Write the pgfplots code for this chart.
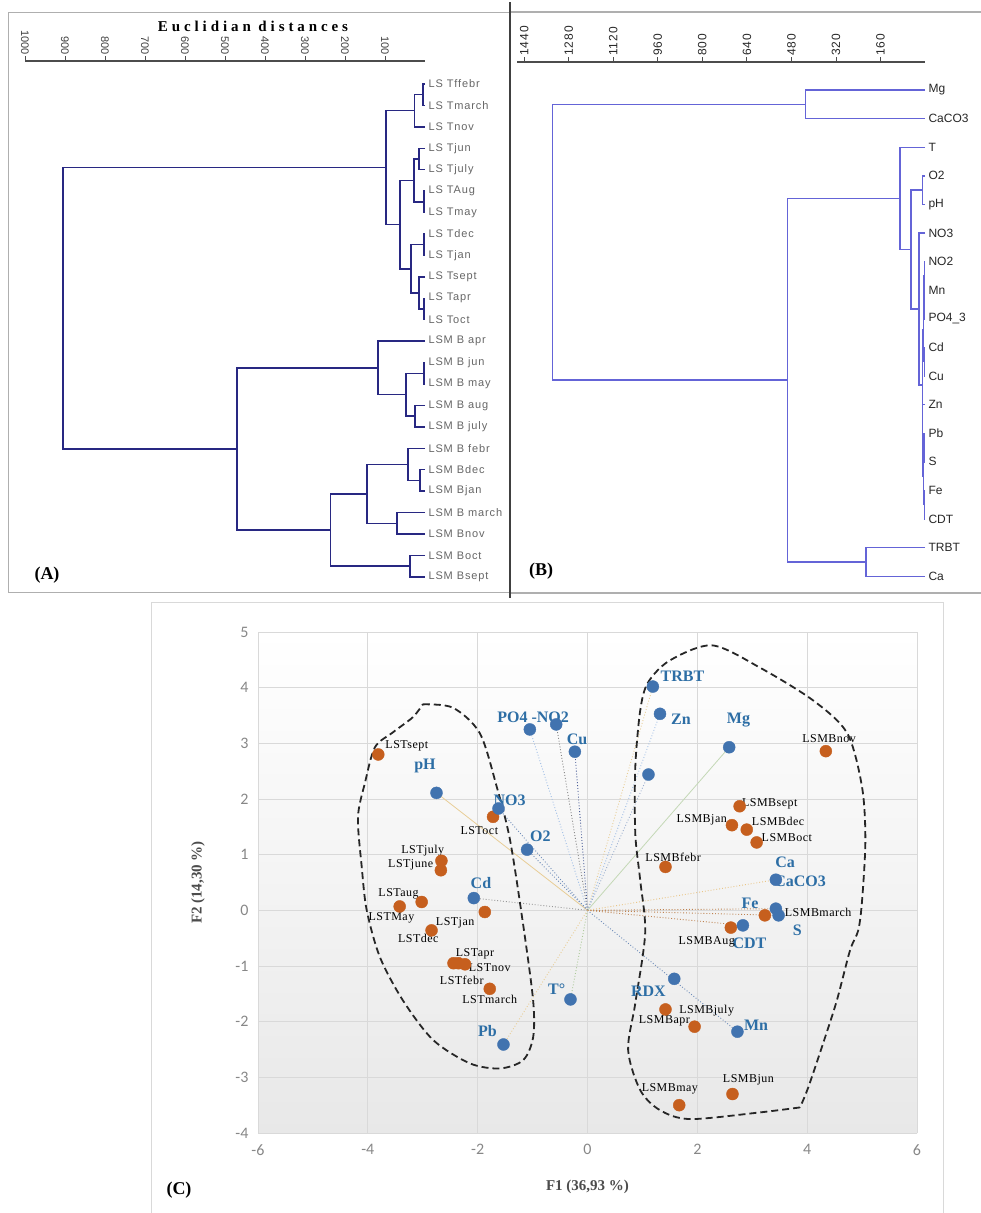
\documentclass[border=0pt]{standalone}
\usepackage{fontspec}
\setmainfont{Liberation Serif}
\setsansfont{Liberation Sans}
\newfontfamily\titlefont[LetterSpace=26]{Liberation Serif}
\newfontfamily\dendfont[LetterSpace=8]{Liberation Sans}
\newfontfamily\obsfont[LetterSpace=4]{Liberation Serif}
\newfontfamily\carlito{Carlito}
\usepackage{pgfplots}
\pgfplotsset{compat=1.18}
\definecolor{dendA}{RGB}{40,40,130}
\definecolor{dendB}{RGB}{100,100,215}
\definecolor{ptblue}{RGB}{65,115,175}
\definecolor{ptorange}{RGB}{198,95,30}
\definecolor{lblblue}{RGB}{45,110,165}
\definecolor{tickgray}{RGB}{135,135,135}
\definecolor{gridgray}{RGB}{217,217,217}
\definecolor{framegray}{RGB}{175,175,175}
\definecolor{vtan}{RGB}{232,205,150}
\definecolor{vlblue}{RGB}{160,190,230}
\definecolor{vgreen}{RGB}{170,200,150}
\definecolor{vnavy}{RGB}{70,90,150}
\definecolor{vgray}{RGB}{150,150,150}
\definecolor{vbrown}{RGB}{190,130,80}
\definecolor{vblue}{RGB}{110,140,185}
\tikzset{
 bl/.style={font=\bfseries\fontsize{16}{16}\selectfont, text=lblblue, inner sep=0pt},
 ol/.style={font=\obsfont\fontsize{12}{12}\selectfont, text=black, inner sep=0pt},
 vec/.style={line width=0.9pt, dotted},
 dA/.style={draw=dendA, solid, mark=none, line width=1.4pt},
 dB/.style={draw=dendB, solid, mark=none, line width=1.4pt},
}
\begin{document}
\begin{tikzpicture}
\path[use as bounding box] (0pt,0pt) rectangle (981pt,-1213pt);
% frames
\draw[framegray, line width=1pt] (8pt,-12pt) rectangle (510pt,-592pt);
\draw[framegray, line width=1.2pt] (510pt,-12pt) -- (981pt,-12pt);
\draw[framegray, line width=1.5pt] (510pt,-593pt) -- (981pt,-593pt);
\draw[black!75, line width=1.2pt] (510pt,-2pt) -- (510pt,-598pt);
\draw[gridgray, line width=1pt] (151pt,-602pt) rectangle (943pt,-1213pt);
\node[font=\titlefont\bfseries\fontsize{15}{17}\selectfont] at (253pt,-26pt) {Euclidian distances};
\node[font=\bfseries\fontsize{18}{20}\selectfont] at (47pt,-575pt) {(A)};
\node[font=\bfseries\fontsize{18}{20}\selectfont] at (541pt,-571pt) {(B)};
\node[font=\bfseries\fontsize{18}{20}\selectfont] at (179pt,-1190pt) {(C)};

% ---------------- Panel A ----------------
\begin{axis}[
  at={(25pt,-61pt)}, anchor=north west, scale only axis,
  width=400pt, height=527pt,
  xmin=-1000, xmax=0, ymin=-24.52, ymax=0.073,
  axis x line*=top, axis y line*=right,
  x axis line style={-, line width=1.2pt, black!70},
  y axis line style={draw=none},
  xtick={-1000,-900,...,-100},
  xticklabels={1000,900,800,700,600,500,400,300,200,100},
  xtick align=outside, major tick length=5pt,
  xtick style={black!70, line width=0.8pt},
  xticklabel style={rotate=-90, anchor=east, font=\sffamily\fontsize{11}{11}\selectfont, text=black!75, inner sep=1pt},
  ytick={-1,-2,...,-24},
  yticklabels={LS Tffebr,LS Tmarch,LS Tnov,LS Tjun,LS Tjuly,LS TAug,LS Tmay,LS Tdec,LS Tjan,LS Tsept,LS Tapr,LS Toct,LSM B apr,LSM B jun,LSM B may,LSM B aug,LSM B july,LSM B febr,LSM Bdec,LSM Bjan,LSM B march,LSM Bnov,LSM Boct,LSM Bsept},
  ytick style={draw=none},
  yticklabel style={anchor=west, font=\dendfont\fontsize{11}{11}\selectfont, text=black!60},
  clip=false,
]
\addplot[dA] coordinates {(0,-1) (-5,-1) (-5,-2) (0,-2)};
\addplot[dA] coordinates {(-5,-1.5) (-27,-1.5) (-27,-3) (0,-3)};
\addplot[dA] coordinates {(0,-4) (-15,-4) (-15,-5) (0,-5)};
\addplot[dA] coordinates {(0,-6) (-3,-6) (-3,-7) (0,-7)};
\addplot[dA] coordinates {(-15,-4.5) (-28,-4.5) (-28,-6.5) (-3,-6.5)};
\addplot[dA] coordinates {(0,-8) (-3,-8) (-3,-9) (0,-9)};
\addplot[dA] coordinates {(0,-11) (-3,-11) (-3,-12) (0,-12)};
\addplot[dA] coordinates {(0,-10) (-15,-10) (-15,-11.5) (-3,-11.5)};
\addplot[dA] coordinates {(-3,-8.5) (-35,-8.5) (-35,-10.75) (-15,-10.75)};
\addplot[dA] coordinates {(-28,-5.5) (-63,-5.5) (-63,-9.625) (-35,-9.625)};
\addplot[dA] coordinates {(-27,-2.25) (-98,-2.25) (-98,-7.5625) (-63,-7.5625)};
\addplot[dA] coordinates {(0,-14) (-3,-14) (-3,-15) (0,-15)};
\addplot[dA] coordinates {(0,-16) (-25,-16) (-25,-17) (0,-17)};
\addplot[dA] coordinates {(-3,-14.5) (-48,-14.5) (-48,-16.5) (-25,-16.5)};
\addplot[dA] coordinates {(0,-13) (-118,-13) (-118,-15.5) (-48,-15.5)};
\addplot[dA] coordinates {(0,-19) (-13,-19) (-13,-20) (0,-20)};
\addplot[dA] coordinates {(0,-18) (-43,-18) (-43,-19.5) (-13,-19.5)};
\addplot[dA] coordinates {(0,-21) (-70,-21) (-70,-22) (0,-22)};
\addplot[dA] coordinates {(-43,-18.75) (-145,-18.75) (-145,-21.5) (-70,-21.5)};
\addplot[dA] coordinates {(0,-23) (-38,-23) (-38,-24) (0,-24)};
\addplot[dA] coordinates {(-145,-20.125) (-237,-20.125) (-237,-23.5) (-38,-23.5)};
\addplot[dA] coordinates {(-118,-14.25) (-470,-14.25) (-470,-21.8125) (-237,-21.8125)};
\addplot[dA] coordinates {(-98,-4.906) (-905,-4.906) (-905,-18.031) (-470,-18.031)};
\end{axis}

% ---------------- Panel B ----------------
\begin{axis}[
  at={(517pt,-62pt)}, anchor=north west, scale only axis,
  width=408pt, height=528pt,
  xmin=-1466, xmax=0, ymin=-18.48, ymax=-0.021,
  axis x line*=top, axis y line*=right,
  x axis line style={-, line width=1.2pt, black!70},
  y axis line style={draw=none},
  xtick={-1440,-1280,...,-160},
  xticklabels={1440,1280,1120,960,800,640,480,320,160},
  xtick align=outside, major tick length=5pt,
  xtick style={black!70, line width=0.8pt},
  xticklabel style={rotate=90, anchor=west, font=\dendfont\fontsize{12}{12}\selectfont, text=black!85, inner sep=1pt},
  ytick={-1,-2,...,-18},
  yticklabels={Mg,CaCO3,T,O2,pH,NO3,NO2,Mn,PO4\_3,Cd,Cu,Zn,Pb,S,Fe,CDT,TRBT,Ca},
  ytick style={draw=none},
  yticklabel style={anchor=west, font=\sffamily\fontsize{12}{12}\selectfont, text=black!85},
  clip=false,
]
\addplot[dB] coordinates {(0,-1) (-430,-1) (-430,-2) (0,-2)};
\addplot[dB] coordinates {(0,-4) (-10,-4) (-10,-5) (0,-5)};
\addplot[dB] coordinates {(0,-7) (-2,-7) (-2,-8) (0,-8)};
\addplot[dB] coordinates {(-2,-7.5) (-4,-7.5) (-4,-9) (0,-9)};
\addplot[dB] coordinates {(0,-10) (-2,-10) (-2,-11) (0,-11)};
\addplot[dB] coordinates {(-4,-8.25) (-6,-8.25) (-6,-10.5) (-2,-10.5)};
\addplot[dB] coordinates {(0,-13) (-3,-13) (-3,-14) (0,-14)};
\addplot[dB] coordinates {(0,-15) (-2,-15) (-2,-16) (0,-16)};
\addplot[dB] coordinates {(-3,-13.5) (-5,-13.5) (-5,-15.5) (-2,-15.5)};
\addplot[dB] coordinates {(0,-12) (-8,-12) (-8,-14.5) (-5,-14.5)};
\addplot[dB] coordinates {(-6,-9.375) (-10,-9.375) (-10,-13.25) (-8,-13.25)};
\addplot[dB] coordinates {(0,-6) (-22,-6) (-22,-11.3125) (-10,-11.3125)};
\addplot[dB] coordinates {(-10,-4.5) (-50,-4.5) (-50,-8.65625) (-22,-8.65625)};
\addplot[dB] coordinates {(0,-3) (-90,-3) (-90,-6.578) (-50,-6.578)};
\addplot[dB] coordinates {(0,-17) (-212,-17) (-212,-18) (0,-18)};
\addplot[dB] coordinates {(-90,-4.789) (-495,-4.789) (-495,-17.5) (-212,-17.5)};
\addplot[dB] coordinates {(-430,-1.5) (-1338,-1.5) (-1338,-11.145) (-495,-11.145)};
\end{axis}

% ---------------- Panel C ----------------
\begin{axis}[
  at={(258pt,-632pt)}, anchor=north west, scale only axis,
  width=659pt, height=501pt,
  xmin=-6, xmax=6, ymin=-4, ymax=5,
  xtick={-6,-4,...,6}, ytick={-4,...,5},
  xticklabels={-6,-4,-2,0,2,4,6},
  yticklabels={-4,-3,-2,-1,0,1,2,3,4,5},
  grid=major, grid style={gridgray, line width=0.9pt},
  axis line style={draw=none}, tick style={draw=none},
  ticklabel style={font=\carlito\fontsize{16}{16}\selectfont, text=tickgray},
  xticklabel style={yshift=-8pt},
  yticklabel style={xshift=-6pt},
  xlabel={F1 (36,93 \%)}, ylabel={F2 (14,30 \%)},
  label style={font=\bfseries\fontsize{15}{17}\selectfont, text=black!70},
  xlabel style={at={(axis description cs:0.5,-0.108)}, anchor=center},
  ylabel style={at={(axis description cs:-0.091,0.5)}, anchor=center},
  axis background/.style={shade, top color=white, bottom color=black!9},
  clip=false,
]
% vectors
\addplot[vec, vtan] coordinates {(0,0) (1.19,4.02)};
\addplot[vec, vlblue] coordinates {(0,0) (1.32,3.53)};
\addplot[line width=0.8pt, vgreen!70] coordinates {(0,0) (2.58,2.93)};
\addplot[vec, vblue!70] coordinates {(0,0) (1.11,2.44)};
\addplot[vec, vnavy] coordinates {(0,0) (-0.23,2.85)};
\addplot[vec, vgray!120] coordinates {(0,0) (-0.57,3.34)};
\addplot[vec, vlblue] coordinates {(0,0) (-1.05,3.25)};
\addplot[line width=0.8pt, vtan] coordinates {(0,0) (-2.75,2.11)};
\addplot[vec, vblue] coordinates {(0,0) (-1.62,1.83)};
\addplot[vec, vblue] coordinates {(0,0) (-1.10,1.09)};
\addplot[vec, vgray] coordinates {(0,0) (-2.07,0.22)};
\addplot[vec, vgreen] coordinates {(0,0) (-0.31,-1.60)};
\addplot[vec, vtan] coordinates {(0,0) (-1.53,-2.41)};
\addplot[vec, vblue] coordinates {(0,0) (2.73,-2.18)};
\addplot[vec, vbrown] coordinates {(0,0) (2.83,-0.27)};
\addplot[vec, vbrown] coordinates {(0,0) (3.43,0.03)};
\addplot[vec, vbrown] coordinates {(0,0) (3.48,-0.09)};
\addplot[vec, vtan!90!orange] coordinates {(0,0) (3.43,0.55)};
% hulls
\addplot[smooth, black!85, line width=1.8pt, dash pattern=on 7pt off 4pt] coordinates {
(-3.00,3.70) (-2.45,3.64) (-1.96,3.18) (-1.65,2.21) (-1.41,1.26) (-1.17,-0.27) (-0.99,-1.62) (-0.99,-2.28) (-1.17,-2.69) (-1.59,-2.84) (-2.14,-2.75) (-2.81,-2.33) (-3.36,-1.62) (-3.78,-0.84) (-4.02,0.00) (-4.11,0.77) (-4.18,1.67) (-4.05,2.30) (-3.87,2.93) (-3.54,3.20) (-3.18,3.47) (-3.00,3.70)};
\addplot[smooth, black!85, line width=1.8pt, dash pattern=on 7pt off 4pt] coordinates {
(3.87,-3.54) (3.14,-3.63) (1.87,-3.75) (1.32,-3.59) (0.96,-3.23) (0.74,-2.51) (0.87,-1.67) (1.05,-0.41) (0.96,0.54) (0.87,1.38) (0.87,2.57) (0.96,3.59) (1.10,4.09) (1.50,4.49) (2.27,4.76) (3.14,4.36) (4.11,3.77) (4.73,3.18) (5.00,2.21) (5.06,1.26) (5.00,0.18) (4.93,-0.36) (4.78,-0.72) (4.54,-1.62) (4.29,-2.39) (4.02,-3.18) (3.87,-3.54)};
% observations
\addplot[only marks, mark=*, mark size=6pt, ptorange] coordinates {
(-3.81,2.80) (-1.72,1.68) (-2.66,0.89) (-2.67,0.72) (-3.02,0.15) (-3.42,0.07) (-1.87,-0.03) (-2.84,-0.36) (-2.44,-0.95) (-2.35,-0.95) (-2.23,-0.97) (-1.78,-1.41)
(4.34,2.86) (2.77,1.87) (2.63,1.53) (2.90,1.45) (3.08,1.22) (1.42,0.78) (3.23,-0.09) (2.61,-0.31) (1.42,-1.78) (1.95,-2.09) (1.67,-3.50) (2.64,-3.30)};
% variables
\addplot[only marks, mark=*, mark size=6pt, ptblue] coordinates {
(1.19,4.02) (1.32,3.53) (2.58,2.93) (1.11,2.44) (-0.23,2.85) (-0.57,3.34) (-1.05,3.25) (-2.75,2.11) (-1.62,1.83) (-1.10,1.09) (-2.07,0.22) (-0.31,-1.60) (-1.53,-2.41) (1.58,-1.23) (2.73,-2.18) (2.83,-0.27) (3.43,0.03) (3.48,-0.09) (3.43,0.55)};
% variable labels
\node[bl] at (axis cs:1.73,4.20) {TRBT};
\node[bl] at (axis cs:1.70,3.43) {Zn};
\node[bl] at (axis cs:2.75,3.41) {Mg};
\node[bl] at (axis cs:-0.19,3.07) {Cu};
\node[bl] at (axis cs:-0.99,3.47) {PO4 -NO2};
\node[bl] at (axis cs:-2.96,2.60) {pH};
\node[bl] at (axis cs:-1.42,1.98) {NO3};
\node[bl] at (axis cs:-0.86,1.33) {O2};
\node[bl] at (axis cs:-1.94,0.49) {Cd};
\node[bl] at (axis cs:-0.56,-1.41) {T°};
\node[bl] at (axis cs:-1.82,-2.16) {Pb};
\node[bl] at (axis cs:1.11,-1.45) {RDX};
\node[bl] at (axis cs:3.07,-2.07) {Mn};
\node[bl] at (axis cs:2.95,-0.59) {CDT};
\node[bl] at (axis cs:3.82,-0.36) {S};
\node[bl] at (axis cs:2.96,0.12) {Fe};
\node[bl] at (axis cs:3.60,0.87) {Ca};
\node[bl] at (axis cs:3.87,0.52) {CaCO3};
% observation labels
\node[ol] at (axis cs:-3.29,2.96) {LSTsept};
\node[ol] at (axis cs:-1.97,1.44) {LSToct};
\node[ol] at (axis cs:-3.00,1.07) {LSTjuly};
\node[ol] at (axis cs:-3.22,0.81) {LSTjune};
\node[ol] at (axis cs:-3.44,0.29) {LSTaug};
\node[ol] at (axis cs:-3.57,-0.14) {LSTMay};
\node[ol] at (axis cs:-2.41,-0.22) {LSTjan};
\node[ol] at (axis cs:-3.08,-0.51) {LSTdec};
\node[ol] at (axis cs:-2.05,-0.78) {LSTapr};
\node[ol] at (axis cs:-1.78,-1.02) {LSTnov};
\node[ol] at (axis cs:-2.29,-1.26) {LSTfebr};
\node[ol] at (axis cs:-1.78,-1.60) {LSTmarch};
\node[ol] at (axis cs:4.40,3.08) {LSMBnov};
\node[ol] at (axis cs:3.32,1.92) {LSMBsept};
\node[ol] at (axis cs:2.08,1.63) {LSMBjan};
\node[ol] at (axis cs:3.47,1.59) {LSMBdec};
\node[ol] at (axis cs:3.63,1.30) {LSMBoct};
\node[ol] at (axis cs:1.56,0.96) {LSMBfebr};
\node[ol] at (axis cs:4.20,-0.04) {LSMBmarch};
\node[ol] at (axis cs:2.17,-0.57) {LSMBAug};
\node[ol] at (axis cs:2.17,-1.81) {LSMBjuly};
\node[ol] at (axis cs:1.40,-1.99) {LSMBapr};
\node[ol] at (axis cs:1.50,-3.20) {LSMBmay};
\node[ol] at (axis cs:2.93,-3.05) {LSMBjun};
\end{axis}
\end{tikzpicture}
\end{document}
